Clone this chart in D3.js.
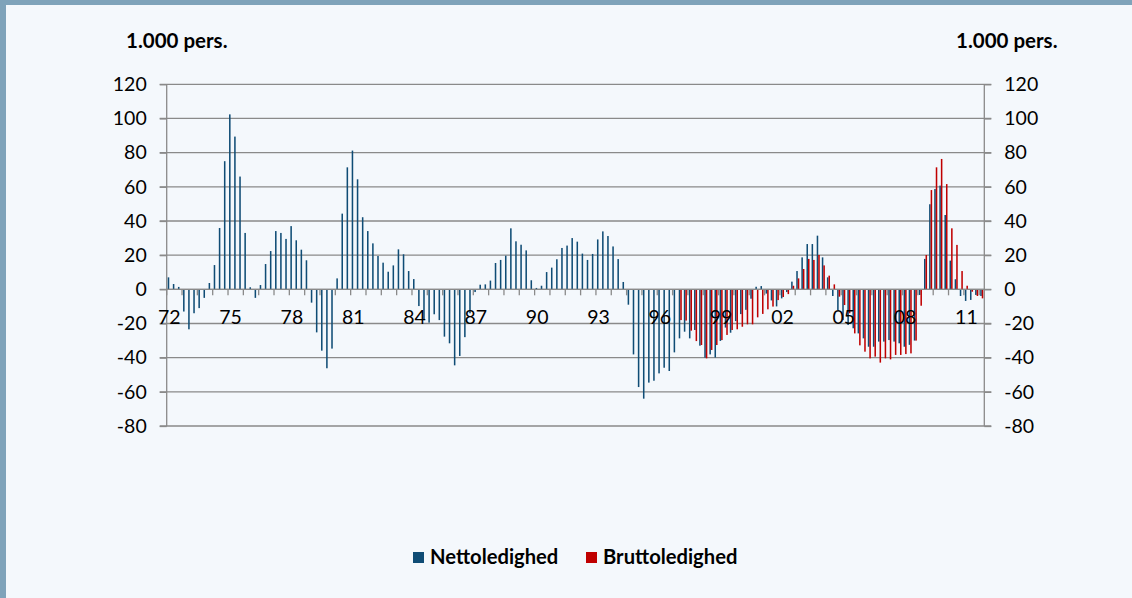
<!DOCTYPE html>
<html>
<head>
<meta charset="utf-8">
<script src="https://cdn.jsdelivr.net/npm/d3@7"></script>
<style>
	html, body { margin: 0; padding: 0; background: #f4f8fc; }
	svg { display: block; font-family: Lato, "Open Sans", sans-serif; }
</style>
</head>
<body>
<svg id="chart" width="1132" height="598"></svg>
<script>
// kvartaler 1972K1 - 2011K4
var firstYear = 1972, lastYear = 2011;
var quarters = [];
for (var y = firstYear; y <= lastYear; y++) {
	for (var q = 1; q <= 4; q++) quarters.push(y + "K" + q);
}

var yearLabels = ["72", "75", "78", "81", "84", "87", "90", "93", "96", "99", "02", "05", "08", "11"];
var yTicks = [-80, -60, -40, -20, 0, 20, 40, 60, 80, 100, 120];

// Nettoledighed, aendring i 1.000 pers.
var netto = [
	7.0, 3.1, 1.4, -13, -23.4, -14, -11, -5,
	3.7, 14.2, 35.9, 75, 102.4, 89.4, 66, 33,
	1.2, -5, 2.5, 14.8, 22.4, 34.1, 33, 29.5,
	37, 28.7, 23.2, 17, -7.8, -25.2, -35.9, -46.2,
	-34.7, 6.4, 44.3, 71.4, 81.2, 64.4, 42.2, 34.1,
	26.9, 19.5, 15.6, 10.3, 14, 23.4, 20.5, 10.7,
	6, -9.8, -18, -19.5, -14.6, -18, -27.7, -31.6,
	-44.5, -39, -28, -14, -1.6, 2.7, 2.9, 5.1,
	15.4, 17.2, 19.7, 35.7, 28.1, 26.1, 22.8, 5.3,
	0.8, 2.1, 10.1, 12.7, 17.6, 24.2, 25.6, 30,
	27.9, 20.9, 17.2, 20.7, 29.2, 33.9, 31.2, 25.1,
	17.7, 4.3, -9, -38.1, -57.2, -64, -54.6, -53.5,
	-49.2, -45.9, -47.8, -36.9, -28.7, -24.8, -28.7, -23.8,
	-33, -40, -38.1, -39.9, -30.2, -22.4, -25.4, -18.6,
	-14.5, -12, -5.5, 1.5, 1.9, -2.5, -6.5, -10,
	-5.3, -1.6, 4.5, 10.7, 18.7, 26.5, 26.5, 31.4,
	18.7, 7.0, -3.9, -12.1, -18, -20.9, -22.8, -25.8,
	-28.7, -33.6, -33.6, -30.6, -30.6, -29.7, -30.6, -31.6,
	-33.6, -32.5, -30, -3.3, 17.8, 49.8, 58.7, 60.7,
	43.5, 16.8, 5.9, -3.9, -6.8, -6.2, -3.3, -3.9
];

// Bruttoledighed, aendring i 1.000 pers. (fra 1997K1)
var bruttoStart = 100;
var brutto = [
	-18.0, -18.3, -24.2, -30.3, -32.6, -40.4, -35.5, -32.6,
	-29.7, -26.7, -23.8, -23.4, -21.9, -20.5, -20.5, -16.4,
	-14.4, -11.7, -10.1, -6.3, -4.5, -2.8, 2.1, 6.4,
	11.9, 17.8, 17.2, 20.1, 14, 8.0, 2.9, -4.3,
	-9.2, -14, -25.8, -32.8, -36.5, -40.4, -39.4, -42.9,
	-40.4, -41, -38.4, -38.4, -37.9, -37.5, -30, -9.6,
	20.1, 58.1, 71.4, 76.3, 61.6, 35.7, 26.0, 10.7,
	2.1, -1.4, -3.9, -5.3
];

var series = ["Nettoledighed", "Bruttoledighed"];
var colors = ["#0f4c75", "#c00000"];

var svg = d3.select("#chart");

// ramme
svg.append("rect").attr("width", 1132).attr("height", 598).attr("fill", "#f4f8fc");
svg.append("rect").attr("width", 1132).attr("height", 5).attr("fill", "#7fa3ba");
svg.append("rect").attr("width", 6).attr("height", 598).attr("fill", "#7fa3ba");

var x0 = d3.scaleBand()
	.domain(quarters)
	.range([166.7, 984.3]);
var x1 = d3.scaleBand()
	.domain(series)
	.range([x0.bandwidth() * 0.2, x0.bandwidth() * 0.8]);
var y = d3.scaleLinear()
	.domain([-80, 120])
	.range([426, 84.3]);

// gitter
svg.append("g")
	.selectAll("line")
	.data(yTicks)
	.enter().append("line")
		.attr("x1", x0.range()[0] - 7)
		.attr("x2", x0.range()[1] + 7)
		.attr("y1", function(d) { return y(d); })
		.attr("y2", function(d) { return y(d); })
		.attr("stroke", "#8a8a8a")
		.attr("stroke-width", 1.3);

// akser (almindelig bindestreg som minus, som i originalen)
var fmt = function(d) { return String(d); };
var yLeft = d3.axisLeft(y).tickValues(yTicks).tickFormat(fmt).tickSize(7).tickPadding(13);
var yRight = d3.axisRight(y).tickValues(yTicks).tickFormat(fmt).tickSize(7).tickPadding(13);
svg.append("g").attr("class", "axis")
	.attr("transform", "translate(" + x0.range()[0] + ",0)")
	.call(yLeft);
svg.append("g").attr("class", "axis")
	.attr("transform", "translate(" + x0.range()[1] + ",0)")
	.call(yRight);
svg.selectAll(".axis path, .axis line")
	.attr("stroke", "#8a8a8a")
	.attr("stroke-width", 1.3);
svg.selectAll(".axis text")
	.attr("font-size", 19.5)
	.attr("font-family", "Lato, sans-serif")
	.attr("fill", "#000");
svg.selectAll(".axis .domain").attr("d", function() {
	return "M0," + y(120) + "V" + y(-80);
});

// kategoriakse: streg for hver 3. kvartal, etiket for hvert 3. aar
var qTicks = quarters.filter(function(d, i) { return i % 3 == 0; });
svg.append("g")
	.selectAll("line")
	.data(qTicks)
	.enter().append("line")
		.attr("x1", function(d) { return x0(d); })
		.attr("x2", function(d) { return x0(d); })
		.attr("y1", y(0))
		.attr("y2", y(0) + 6)
		.attr("stroke", "#8a8a8a")
		.attr("stroke-width", 1.3);

var bars = svg.append("g");
bars.selectAll("rect.netto")
	.data(netto)
	.enter().append("rect")
		.attr("class", "netto")
		.attr("x", function(d, i) { return x0(quarters[i]) + x1(series[0]); })
		.attr("width", x1.bandwidth())
		.attr("y", function(d) { return y(Math.max(0, d)); })
		.attr("height", function(d) { return Math.abs(y(d) - y(0)); })
		.attr("fill", colors[0]);
bars.selectAll("rect.brutto")
	.data(brutto)
	.enter().append("rect")
		.attr("class", "brutto")
		.attr("x", function(d, i) { return x0(quarters[i + bruttoStart]) + x1(series[1]); })
		.attr("width", x1.bandwidth())
		.attr("y", function(d) { return y(Math.max(0, d)); })
		.attr("height", function(d) { return Math.abs(y(d) - y(0)); })
		.attr("fill", colors[1]);

// nul-linje
svg.append("line")
	.attr("x1", x0.range()[0])
	.attr("x2", x0.range()[1])
	.attr("y1", y(0))
	.attr("y2", y(0))
	.attr("stroke", "#8a8a8a")
	.attr("stroke-width", 1.3);

svg.append("g")
	.selectAll("text")
	.data(yearLabels)
	.enter().append("text")
		.attr("x", function(d, i) { return x0(quarters[i * 12]) + x0.bandwidth() / 2; })
		.attr("y", y(0) + 28)
		.attr("dy", ".35em")
		.attr("text-anchor", "middle")
		.attr("font-size", 19.5)
		.text(function(d) { return d; });

// enheder
svg.append("text").attr("x", 126).attr("y", 48)
	.attr("font-size", 20.5).attr("font-weight", "bold").text("1.000 pers.");
svg.append("text").attr("x", 956).attr("y", 48)
	.attr("font-size", 20.5).attr("font-weight", "bold").text("1.000 pers.");

// forklaring
var legendX = [413, 586];
var legend = svg.append("g")
	.selectAll("g")
	.data(series)
	.enter().append("g")
		.attr("transform", function(d, i) { return "translate(" + legendX[i] + ",552)"; });
legend.append("rect")
	.attr("width", 11)
	.attr("height", 11)
	.attr("fill", function(d, i) { return colors[i]; });
legend.append("text")
	.attr("x", 17)
	.attr("y", 11.5)
	.attr("font-size", 20.2)
	.attr("font-weight", "bold")
	.text(function(d) { return d; });
</script>
</body>
</html>
